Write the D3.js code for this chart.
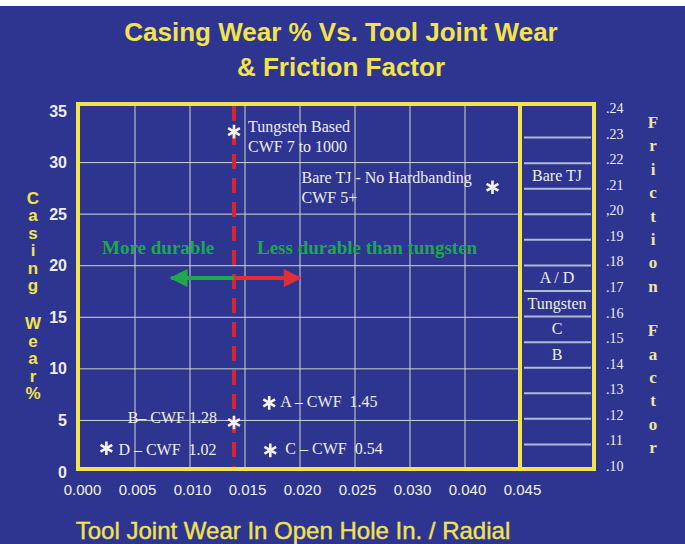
<!DOCTYPE html>
<html>
<head>
<meta charset="utf-8">
<script src="https://cdn.jsdelivr.net/npm/d3@7"></script>
<style>
  body { margin: 0; background: #fff; }
  svg { display: block; }
  .pt-label { white-space: pre; }
</style>
</head>
<body>
<svg id="chart"></svg>
<script>
// x ticks are not evenly spaced in value (no 0.035), so the scale is piecewise
const xTicks = [0.000, 0.005, 0.010, 0.015, 0.020, 0.025, 0.030, 0.040, 0.045]
const xTickLabels = ['0.000', '0.005', '0.010', '0.015', '0.020', '0.025', '0.030', '0.040', '0.045']
const yTicks = [0, 5, 10, 15, 20, 25, 30, 35]
const frictionTicks = [0.10, 0.11, 0.12, 0.13, 0.14, 0.15, 0.16, 0.17, 0.18, 0.19, 0.20, 0.21, 0.22, 0.23, 0.24]
const frictionTickLabels = ['.10', '.11', '.12', '.13', '.14', '.15', '.16', '.17', '.18', '.19', ',20', '.21', '.22', '.23', '.24']

const pointNames = ['Tungsten', 'Bare TJ', 'A', 'B', 'C', 'D']
const pointWear = [0.014, 0.0425, 0.0172, 0.014, 0.0173, 0.0024]
const pointCasing = [33.0, 27.6, 6.7, 4.8, 2.1, 2.3]
const pointLabels = [
  ['Tungsten Based', 'CWF 7 to 1000'],
  ['Bare TJ - No Hardbanding', 'CWF 5+'],
  ['A – CWF  1.45'],
  ['B– CWF 1.28'],
  ['C – CWF  0.54'],
  ['D – CWF  1.02']
]

const frictionNames = ['Bare TJ', 'A / D', 'Tungsten', 'C', 'B']
const frictionValues = [0.215, 0.175, 0.165, 0.155, 0.145]

const limitWear = 0.014
const arrowLevel = 18.8
const moreDurableTo = 0.0083
const lessDurableTo = 0.020

const W = 685, H = 544
const BG = '#2d3591'
const YELLOW = '#f3e34c'
const PLOT = { left: 78, right: 520, top: 104, bottom: 469 }
const PANEL_RIGHT = 594

const svg = d3.select('#chart').attr('width', W).attr('height', H)

svg.append('rect').attr('width', W).attr('height', H).attr('fill', BG)
svg.append('rect').attr('width', W).attr('height', 6).attr('fill', '#fff')

const xScale = d3.scaleLinear()
  .domain(xTicks)
  .range(xTicks.map((d, i) => 80 + i * 55))

const yScale = d3.scaleLinear().domain([0, 35]).range([472, 111])
const fScale = d3.scaleLinear().domain([0.10, 0.24]).range([470, 112])

// title
svg.append('text')
  .attr('x', 341).attr('y', 41)
  .attr('text-anchor', 'middle')
  .attr('font-family', 'Arial, Liberation Sans, sans-serif')
  .attr('font-weight', 'bold').attr('font-size', 26)
  .attr('fill', YELLOW)
  .text('Casing Wear % Vs. Tool Joint Wear')
svg.append('text')
  .attr('x', 341).attr('y', 76)
  .attr('text-anchor', 'middle')
  .attr('font-family', 'Arial, Liberation Sans, sans-serif')
  .attr('font-weight', 'bold').attr('font-size', 26)
  .attr('fill', YELLOW)
  .text('& Friction Factor')

// grid
const grid = svg.append('g').attr('stroke', '#cfd6c4').attr('stroke-width', 1)
grid.selectAll('line.v')
  .data(xTicks.slice(1, -1))
  .join('line')
  .attr('class', 'v')
  .attr('x1', d => xScale(d)).attr('x2', d => xScale(d))
  .attr('y1', PLOT.top).attr('y2', PLOT.bottom)
grid.selectAll('line.h')
  .data(yTicks.slice(1, -1))
  .join('line')
  .attr('class', 'h')
  .attr('x1', PLOT.left).attr('x2', PLOT.right)
  .attr('y1', d => yScale(d)).attr('y2', d => yScale(d))

// friction panel lines
svg.append('g')
  .selectAll('line')
  .data(frictionTicks.slice(1, -1))
  .join('line')
  .attr('x1', PLOT.right + 4).attr('x2', PANEL_RIGHT - 3)
  .attr('y1', d => fScale(d)).attr('y2', d => fScale(d))
  .attr('stroke', '#aebbd0').attr('stroke-width', 2)

svg.append('g')
  .selectAll('text')
  .data(frictionNames)
  .join('text')
  .attr('x', (PLOT.right + PANEL_RIGHT) / 2)
  .attr('y', (d, i) => fScale(frictionValues[i]) + 5)
  .attr('text-anchor', 'middle')
  .attr('font-family', 'Times New Roman, Liberation Serif, serif')
  .attr('font-size', 16)
  .attr('fill', '#eeeeee')
  .text(d => d)

// frames
svg.append('rect')
  .attr('x', PLOT.left).attr('y', PLOT.top)
  .attr('width', PLOT.right - PLOT.left).attr('height', PLOT.bottom - PLOT.top)
  .attr('fill', 'none').attr('stroke', YELLOW).attr('stroke-width', 4)
svg.append('rect')
  .attr('x', PLOT.right).attr('y', PLOT.top)
  .attr('width', PANEL_RIGHT - PLOT.right).attr('height', PLOT.bottom - PLOT.top)
  .attr('fill', 'none').attr('stroke', YELLOW).attr('stroke-width', 4)

// axes tick labels
const yAxis = d3.axisLeft(yScale).tickValues(yTicks).tickSize(0).tickPadding(0)
svg.append('g')
  .attr('transform', 'translate(67,0)')
  .call(yAxis)
  .call(g => g.select('.domain').remove())
  .call(g => g.selectAll('text')
    .attr('font-family', 'Arial, Liberation Sans, sans-serif')
    .attr('font-weight', 'bold').attr('font-size', 16)
    .attr('fill', '#ececf2'))

const xAxis = d3.axisBottom(xScale).tickValues(xTicks)
  .tickFormat((d, i) => xTickLabels[i]).tickSize(0).tickPadding(0)
svg.append('g')
  .attr('transform', 'translate(2,484)')
  .call(xAxis)
  .call(g => g.select('.domain').remove())
  .call(g => g.selectAll('text')
    .attr('font-family', 'Arial, Liberation Sans, sans-serif')
    .attr('font-size', 15)
    .attr('fill', '#f2f2f2'))

const fAxis = d3.axisRight(fScale).tickValues(frictionTicks)
  .tickFormat((d, i) => frictionTickLabels[i]).tickSize(0).tickPadding(0)
svg.append('g')
  .attr('transform', 'translate(606,-4)')
  .call(fAxis)
  .call(g => g.select('.domain').remove())
  .call(g => g.selectAll('text')
    .attr('font-family', 'Times New Roman, Liberation Serif, serif')
    .attr('font-size', 14)
    .attr('fill', '#eeeeee'))

// axis titles, stacked letters
const casingLetters = 'Casing'.split('').concat('Wear'.split(''), ['%'])
svg.append('g')
  .selectAll('text')
  .data(casingLetters)
  .join('text')
  .attr('x', 33)
  .attr('y', (d, i) => 204 + i * 17.4 + (i > 5 ? 21 : 0))
  .attr('text-anchor', 'middle')
  .attr('font-family', 'Arial, Liberation Sans, sans-serif')
  .attr('font-weight', 'bold').attr('font-size', 17)
  .attr('fill', YELLOW)
  .text(d => d)

const frictionLetters = 'Friction'.split('').concat('Factor'.split(''))
svg.append('g')
  .selectAll('text')
  .data(frictionLetters)
  .join('text')
  .attr('x', 653)
  .attr('y', (d, i) => 128 + i * 23.4 + (i > 7 ? 21 : 0))
  .attr('text-anchor', 'middle')
  .attr('font-family', 'Times New Roman, Liberation Serif, serif')
  .attr('font-weight', 'bold').attr('font-size', 17)
  .attr('fill', '#f0e4a0')
  .text(d => d)

svg.append('text')
  .attr('x', 293).attr('y', 539)
  .attr('text-anchor', 'middle')
  .attr('font-family', 'Arial, Liberation Sans, sans-serif')
  .attr('font-size', 24)
  .attr('stroke', YELLOW).attr('stroke-width', 0.4)
  .attr('fill', YELLOW)
  .text('Tool Joint Wear In Open Hole In. / Radial')

// dashed limit line
svg.append('line')
  .attr('x1', xScale(limitWear)).attr('x2', xScale(limitWear))
  .attr('y1', PLOT.top + 2).attr('y2', PLOT.bottom - 2)
  .attr('stroke', '#d8262e').attr('stroke-width', 4)
  .attr('stroke-dasharray', '15,9')

// durability arrows
const defs = svg.append('defs')
function addArrowHead(id, color) {
  defs.append('marker')
    .attr('id', id)
    .attr('viewBox', '0 0 10 10')
    .attr('refX', 9).attr('refY', 5)
    .attr('markerWidth', 5).attr('markerHeight', 4.5)
    .attr('markerUnits', 'strokeWidth')
    .attr('orient', 'auto')
    .append('path')
    .attr('d', 'M0,0L10,5L0,10Z')
    .attr('fill', color)
}
addArrowHead('head-green', '#1ea84b')
addArrowHead('head-red', '#e02f35')

svg.append('line')
  .attr('x1', xScale(limitWear)).attr('x2', xScale(moreDurableTo))
  .attr('y1', yScale(arrowLevel)).attr('y2', yScale(arrowLevel))
  .attr('stroke', '#1ea84b').attr('stroke-width', 4)
  .attr('marker-end', 'url(#head-green)')
svg.append('line')
  .attr('x1', xScale(limitWear)).attr('x2', xScale(lessDurableTo))
  .attr('y1', yScale(arrowLevel)).attr('y2', yScale(arrowLevel))
  .attr('stroke', '#e02f35').attr('stroke-width', 4)
  .attr('marker-end', 'url(#head-red)')

svg.append('text')
  .attr('x', xScale(0.0071)).attr('y', yScale(21.1))
  .attr('text-anchor', 'middle')
  .attr('font-family', 'Times New Roman, Liberation Serif, serif')
  .attr('font-weight', 'bold').attr('font-size', 19)
  .attr('fill', '#1ea84b')
  .text('More durable')
svg.append('text')
  .attr('x', xScale(0.0261)).attr('y', yScale(21.1))
  .attr('text-anchor', 'middle')
  .attr('font-family', 'Times New Roman, Liberation Serif, serif')
  .attr('font-weight', 'bold').attr('font-size', 19)
  .attr('fill', '#1ea84b')
  .text('Less durable than tungsten')

// points
const star = d3.symbol().type(d3.symbolAsterisk).size(130)
svg.append('g')
  .selectAll('path')
  .data(pointNames)
  .join('path')
  .attr('transform', (d, i) => `translate(${xScale(pointWear[i])},${yScale(pointCasing[i])})`)
  .attr('d', star)
  .attr('stroke', '#f4f4f4').attr('stroke-width', 2.6)
  .attr('fill', 'none')

// label placement relative to each star
const labelLayout = {
  'Tungsten': { dx: 14, dy: 0, anchor: 'start' },
  'Bare TJ': { dx: -191, dy: -4, anchor: 'start' },
  'A': { dx: 11, dy: 4, anchor: 'start' },
  'B': { dx: -17, dy: 1, anchor: 'end' },
  'C': { dx: 15, dy: 4, anchor: 'start' },
  'D': { dx: 12, dy: 7, anchor: 'start' }
}

pointNames.forEach((name, i) => {
  const lay = labelLayout[name]
  const t = svg.append('text')
    .attr('class', 'pt-label')
    .attr('x', xScale(pointWear[i]) + lay.dx)
    .attr('y', yScale(pointCasing[i]) + lay.dy)
    .attr('text-anchor', lay.anchor)
    .attr('font-family', 'Times New Roman, Liberation Serif, serif')
    .attr('font-size', 16)
    .attr('fill', '#eeeeee')
  pointLabels[i].forEach((line, j) => {
    t.append('tspan')
      .attr('x', xScale(pointWear[i]) + lay.dx)
      .attr('dy', j === 0 ? 0 : 20)
      .text(line)
  })
})
</script>
</body>
</html>
